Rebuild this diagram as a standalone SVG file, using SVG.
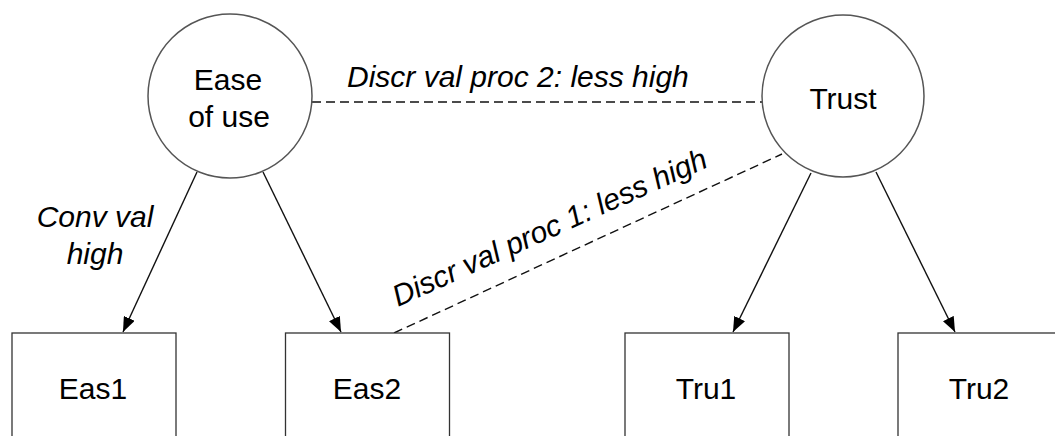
<svg xmlns="http://www.w3.org/2000/svg" width="1055" height="436" viewBox="0 0 1055 436">
  <style>
    .lbl { font-family: "Liberation Sans", Arial, sans-serif; font-size: 30px; fill: #000; }
    .it { font-style: italic; }
    .circ { fill: #fff; stroke: #555; stroke-width: 1.5; }
    .box { fill: #fff; stroke: #333; stroke-width: 1.3; }
    .arrow { stroke: #111; stroke-width: 1.4; fill: none; marker-end: url(#head); }
    .dash { stroke: #111; stroke-width: 1.4; fill: none; stroke-dasharray: 9 5; }
  </style>
  <defs>
    <marker id="head" markerUnits="userSpaceOnUse" markerWidth="16" markerHeight="12" refX="15" refY="6" orient="auto">
      <path d="M0,0 L15,6 L0,12 Z" fill="#000"/>
    </marker>
  </defs>
  <rect width="1055" height="436" fill="#fff"/>

  <!-- connectors -->
  <g id="connectors">
    <line class="arrow" x1="197" y1="172" x2="123" y2="332"/>
    <line class="arrow" x1="263" y1="172" x2="341" y2="332"/>
    <line class="arrow" x1="811" y1="173" x2="733" y2="332"/>
    <line class="arrow" x1="876" y1="172" x2="955" y2="332"/>
    <line class="dash" x1="312" y1="102" x2="762" y2="102"/>
    <line class="dash" x1="394" y1="333" x2="782" y2="154"/>
    <text class="lbl it" x="347" y="87">Discr val proc 2: less high</text>
    <text class="lbl it" transform="translate(398,307) rotate(-24.3)">Discr val proc 1: less high</text>
    <text class="lbl it" text-anchor="middle" x="95" y="227">Conv val</text>
    <text class="lbl it" text-anchor="middle" x="95" y="264">high</text>
  </g>

  <g id="ease">
    <circle class="circ" cx="230" cy="96" r="82"/>
    <text class="lbl" text-anchor="middle" x="228" y="90">Ease</text>
    <text class="lbl" text-anchor="middle" x="229" y="127">of use</text>
  </g>

  <g id="trust">
    <circle class="circ" cx="843" cy="96" r="81"/>
    <text class="lbl" text-anchor="middle" x="843" y="109">Trust</text>
  </g>

  <g id="eas1">
    <rect class="box" x="12" y="333" width="164" height="130"/>
    <text class="lbl" text-anchor="middle" x="93" y="399">Eas1</text>
  </g>
  <g id="eas2">
    <rect class="box" x="285.5" y="333" width="164" height="130"/>
    <text class="lbl" text-anchor="middle" x="367" y="399">Eas2</text>
  </g>
  <g id="tru1">
    <rect class="box" x="625" y="333" width="164" height="130"/>
    <text class="lbl" text-anchor="middle" x="706" y="399">Tru1</text>
  </g>
  <g id="tru2">
    <rect class="box" x="898" y="333" width="164" height="130"/>
    <text class="lbl" text-anchor="middle" x="979" y="399">Tru2</text>
  </g>
</svg>
